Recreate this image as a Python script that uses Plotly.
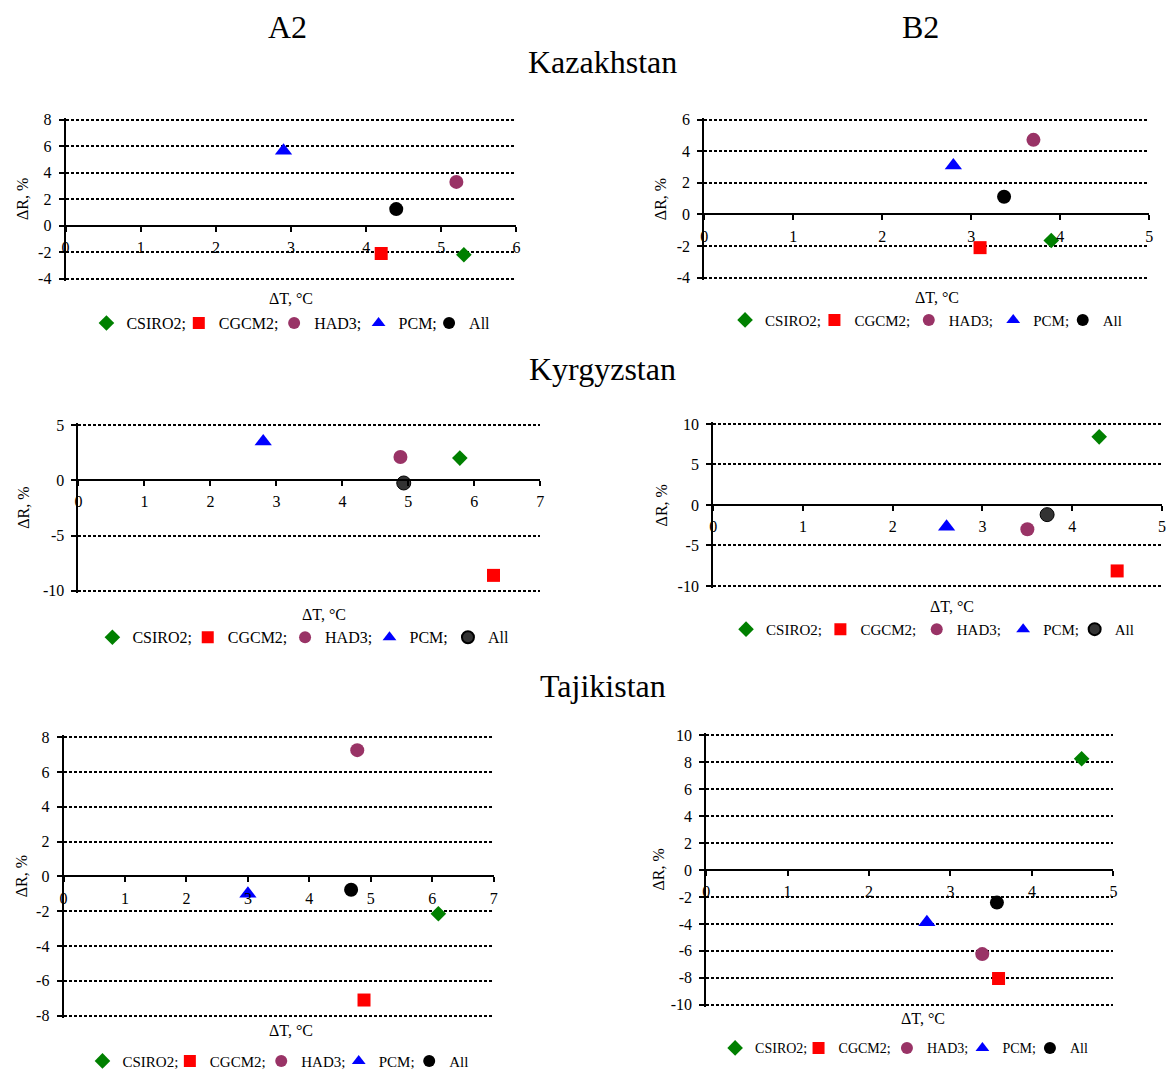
import plotly.graph_objects as go

W, H = 1173, 1079
FONT = "Liberation Serif"

# Models and their marker styles
models = ["CSIRO2;", "CGCM2;", "HAD3;", "PCM;", "All"]
symbols = ["diamond", "square", "circle", "triangle-up", "circle"]
colors = ["#008000", "#FF0000", "#993366", "#0000FF", "#000000"]
marker_sizes = [12, 13, 14, 15, 14]

# Temperature change ΔT (°C) and precipitation change ΔR (%), ordered as `models`
kaz_a2_dt = [5.3, 4.2, 5.2, 2.9, 4.4]
kaz_a2_dr = [-2.2, -2.1, 3.3, 5.65, 1.25]
kaz_b2_dt = [3.9, 3.1, 3.7, 2.8, 3.37]
kaz_b2_dr = [-1.65, -2.1, 4.72, 3.1, 1.12]

kyr_a2_dt = [5.78, 6.29, 4.88, 2.8, 4.93]
kyr_a2_dr = [2.0, -8.6, 2.1, 3.5, -0.25]
kyr_b2_dt = [4.3, 4.5, 3.5, 2.6, 3.72]
kyr_b2_dr = [8.4, -8.15, -3.0, -2.7, -1.2]

taj_a2_dt = [6.1, 4.89, 4.78, 3.0, 4.68]
taj_a2_dr = [-2.15, -7.1, 7.25, -1.0, -0.77]
taj_b2_dt = [4.61, 3.59, 3.39, 2.71, 3.57]
taj_b2_dr = [8.25, -8.05, -6.24, -3.87, -2.42]

# Axis ticks
kaz_a2_xticks = [0, 1, 2, 3, 4, 5, 6]
kaz_a2_yticks = [-4, -2, 0, 2, 4, 6, 8]
kaz_b2_xticks = [0, 1, 2, 3, 4, 5]
kaz_b2_yticks = [-4, -2, 0, 2, 4, 6]
kyr_a2_xticks = [0, 1, 2, 3, 4, 5, 6, 7]
kyr_a2_yticks = [-10, -5, 0, 5]
kyr_b2_xticks = [0, 1, 2, 3, 4, 5]
kyr_b2_yticks = [-10, -5, 0, 5, 10]
taj_a2_xticks = [0, 1, 2, 3, 4, 5, 6, 7]
taj_a2_yticks = [-8, -6, -4, -2, 0, 2, 4, 6, 8]
taj_b2_xticks = [0, 1, 2, 3, 4, 5]
taj_b2_yticks = [-10, -8, -6, -4, -2, 0, 2, 4, 6, 8, 10]

scenario_titles = ["A2", "B2"]
country_titles = ["Kazakhstan", "Kyrgyzstan", "Tajikistan"]
x_title = "ΔT, °C"
y_title = "ΔR, %"

# Panel geometry in pixels: (left, right, top, bottom), label placement,
# and the horizontal pixel position of each legend symbol in the key row
panels = [
    dict(dt=kaz_a2_dt, dr=kaz_a2_dr, xt=kaz_a2_xticks, yt=kaz_a2_yticks,
         box=(62, 516, 115, 276), ylab_x=18, xlab=(289, 296),
         key_y=321, key_x=[106, 199, 295, 380, 451], key_font=16, all_color="#000000"),
    dict(dt=kaz_b2_dt, dr=kaz_b2_dr, xt=kaz_b2_xticks, yt=kaz_b2_yticks,
         box=(705, 1153, 115, 275), ylab_x=661, xlab=(939, 295),
         key_y=318, key_x=[749, 839, 934, 1019, 1089], key_font=15, all_color="#000000"),
    dict(dt=kyr_a2_dt, dr=kyr_a2_dr, xt=kyr_a2_xticks, yt=kyr_a2_yticks,
         box=(75, 540, 424, 592), ylab_x=20, xlab=(322, 616),
         key_y=639, key_x=[112, 208, 306, 391, 470], key_font=16, all_color="#333333"),
    dict(dt=kyr_b2_dt, dr=kyr_b2_dr, xt=kyr_b2_xticks, yt=kyr_b2_yticks,
         box=(714, 1166, 423, 587), ylab_x=662, xlab=(955, 608),
         key_y=631, key_x=[750, 845, 942, 1029, 1101], key_font=15, all_color="#333333"),
    dict(dt=taj_a2_dt, dr=taj_a2_dr, xt=taj_a2_xticks, yt=taj_a2_yticks,
         box=(60, 493, 740, 1022), ylab_x=18, xlab=(289, 1037),
         key_y=1068, key_x=[102, 190, 282, 360, 431], key_font=15, all_color="#000000"),
    dict(dt=taj_b2_dt, dr=taj_b2_dr, xt=taj_b2_xticks, yt=taj_b2_yticks,
         box=(707, 1117, 738, 1011), ylab_x=659, xlab=(925, 1025),
         key_y=1055, key_x=[739, 823, 912, 988, 1056], key_font=14, all_color="#000000"),
]

EDGE_PAD = 2            # px of slack so the outermost gridlines are kept
KEY_SYMBOL_OFFSET = 19  # px from a legend box's left edge to its symbol centre
KEY_SHIFT = -4          # nudge symbols left to leave room for the wider text gap


def px_x(v):
    return v / W


def px_y(v):
    return 1 - v / H


fig = go.Figure()
layout = dict(
    width=W, height=H,
    margin=dict(l=0, r=0, t=0, b=0),
    paper_bgcolor="white", plot_bgcolor="white",
    font=dict(family=FONT, size=16, color="black"),
    showlegend=True,
    annotations=[],
)

for i, p in enumerate(panels):
    n = i + 1
    sfx = "" if n == 1 else str(n)
    xa, ya = f"x{sfx}", f"y{sfx}"
    left, right, top, bottom = p["box"]
    ymin, ymax = min(p["yt"]), max(p["yt"])
    xmin, xmax = min(p["xt"]), max(p["xt"])
    pad = EDGE_PAD * (ymax - ymin) / (bottom - top)

    for k, name in enumerate(models):
        j = i * len(models) + k + 1
        legend_name = "legend" if j == 1 else f"legend{j}"
        color = p["all_color"] if name == "All" else colors[k]
        line = dict(color="black", width=1) if name == "All" and color != "#000000" else dict(width=0)
        fig.add_trace(go.Scatter(
            x=[p["dt"][k]], y=[p["dr"][k]], mode="markers", name=name,
            xaxis=xa, yaxis=ya, legend=legend_name, showlegend=True,
            marker=dict(symbol=symbols[k], size=marker_sizes[k], color=color, line=line),
            cliponaxis=False,
        ))
        # one key entry per model, laid out along the row under the panel
        layout[legend_name] = dict(
            orientation="h",
            x=px_x(p["key_x"][k] + KEY_SHIFT - KEY_SYMBOL_OFFSET), y=px_y(p["key_y"]),
            xanchor="left", yanchor="middle",
            font=dict(family=FONT, size=p["key_font"], color="black"),
            itemsizing="constant", bgcolor="rgba(0,0,0,0)", borderwidth=0,
        )

    # x axis runs along ΔR = 0
    zero_px = top + (ymax - 0) / (ymax - ymin) * (bottom - top)
    layout[f"xaxis{sfx}"] = dict(
        domain=[px_x(left), px_x(right)], range=[xmin, xmax],
        anchor="free", position=px_y(zero_px),
        showline=True, linecolor="black", linewidth=2,
        ticks="outside", ticklen=5, tickwidth=2, tickcolor="black",
        tickmode="array", tickvals=p["xt"], ticktext=[str(t) for t in p["xt"]],
        ticklabelstandoff=2,
        showgrid=False, zeroline=False,
        tickfont=dict(family=FONT, size=16, color="black"),
    )
    layout[f"yaxis{sfx}"] = dict(
        domain=[px_y(bottom + EDGE_PAD), px_y(top - EDGE_PAD)],
        range=[ymin - pad, ymax + pad], anchor=xa,
        showline=True, linecolor="black", linewidth=2,
        ticks="outside", ticklen=5, tickwidth=2, tickcolor="black",
        tickmode="array", tickvals=p["yt"], ticktext=[str(t) for t in p["yt"]],
        ticklabelstandoff=4,
        showgrid=True, gridcolor="black", gridwidth=2, griddash="3px,2px",
        zeroline=False,
        tickfont=dict(family=FONT, size=16, color="black"),
    )

    layout["annotations"].append(dict(
        text=y_title, textangle=-90, x=px_x(p["ylab_x"]), y=px_y((top + bottom) / 2),
        xref="paper", yref="paper", showarrow=False, xanchor="center", yanchor="middle",
        font=dict(family=FONT, size=16, color="black"),
    ))
    layout["annotations"].append(dict(
        text=x_title, x=px_x(p["xlab"][0]), y=px_y(p["xlab"][1]),
        xref="paper", yref="paper", showarrow=False, xanchor="center", yanchor="middle",
        font=dict(family=FONT, size=16, color="black"),
    ))

# Scenario headers and country headers
for text, cx in zip(scenario_titles, [285, 923]):
    layout["annotations"].append(dict(
        text=text, x=px_x(cx), y=px_y(21), xref="paper", yref="paper", showarrow=False,
        xanchor="center", yanchor="middle", font=dict(family=FONT, size=32, color="black"),
    ))
for text, cy in zip(country_titles, [57, 367, 688]):
    layout["annotations"].append(dict(
        text=text, x=px_x(603), y=px_y(cy), xref="paper", yref="paper", showarrow=False,
        xanchor="center", yanchor="middle", font=dict(family=FONT, size=32, color="black"),
    ))

fig.update_layout(**layout)
fig.write_html("out.html")
